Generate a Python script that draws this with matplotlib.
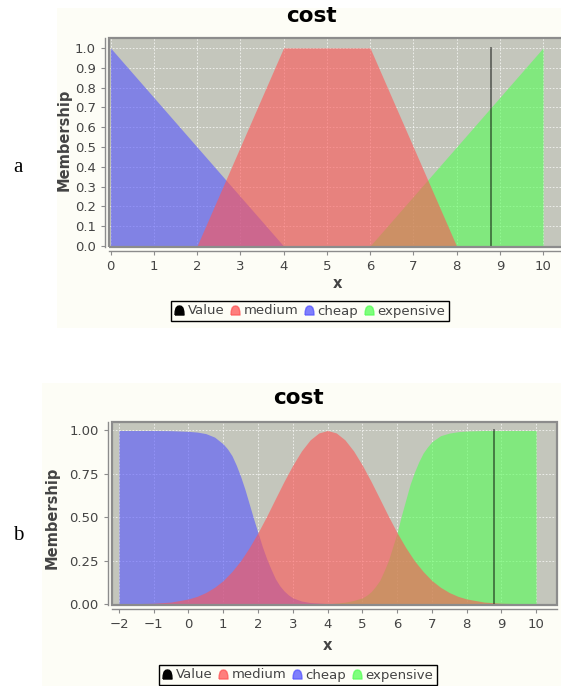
import matplotlib
matplotlib.use("Agg")
import matplotlib.pyplot as plt
from matplotlib.lines import Line2D
from matplotlib.patches import Rectangle
from matplotlib.path import Path

W, H = 561, 686

# ---- data ----
value_x = 8.8

# panel a: triangular / trapezoidal sets
a_cheap_x = [0, 4]
a_cheap_y = [1.0, 0.0]
a_medium_x = [2, 4, 6, 8]
a_medium_y = [0.0, 1.0, 1.0, 0.0]
a_expensive_x = [6, 10, 10]
a_expensive_y = [0.0, 1.0, 0.0]

# panel b: smooth sets
b_cheap_x = [-2, -1, -0.5, 0, 0.25, 0.5, 0.75, 1, 1.125, 1.25, 1.375, 1.5,
             1.625, 1.75, 1.875, 2, 2.125, 2.25, 2.375, 2.5, 2.625, 2.75,
             2.875, 3, 3.25, 3.5, 4, 5, 10]
b_cheap_y = [1.0, 1.0, 0.999, 0.995, 0.991, 0.982, 0.962, 0.922, 0.893,
             0.855, 0.80, 0.735, 0.66, 0.575, 0.49, 0.41, 0.33, 0.26, 0.20,
             0.145, 0.105, 0.075, 0.052, 0.035, 0.017, 0.008, 0.002, 0.0, 0.0]
b_medium_x = [-2, -1, -0.5, 0, 0.25, 0.5, 0.75, 1, 1.25, 1.5, 1.75, 2, 2.25,
              2.5, 2.75, 3, 3.25, 3.5, 3.75, 4, 4.25, 4.5, 4.75, 5, 5.25,
              5.5, 5.75, 6, 6.25, 6.5, 6.75, 7, 7.25, 7.5, 7.75, 8, 8.5, 9, 10]
b_medium_y = [0.0, 0.004, 0.011, 0.029, 0.044, 0.066, 0.096, 0.135, 0.187,
              0.249, 0.325, 0.411, 0.506, 0.607, 0.707, 0.80, 0.882, 0.946,
              0.986, 1.0, 0.986, 0.946, 0.882, 0.80, 0.707, 0.607, 0.506,
              0.411, 0.325, 0.249, 0.187, 0.135, 0.096, 0.066, 0.044, 0.029,
              0.011, 0.004, 0.0]
b_expensive_x = [-2, 4, 4.5, 4.75, 5, 5.125, 5.25, 5.375, 5.5, 5.625, 5.75,
                 5.875, 6, 6.125, 6.25, 6.375, 6.5, 6.625, 6.75, 6.875, 7,
                 7.25, 7.5, 7.75, 8, 8.5, 10, 10]
b_expensive_y = [0.0, 0.0, 0.01, 0.02, 0.035, 0.05, 0.07, 0.10, 0.135, 0.19,
                 0.25, 0.33, 0.41, 0.51, 0.60, 0.69, 0.76, 0.82, 0.87, 0.905,
                 0.935, 0.97, 0.985, 0.993, 0.997, 1.0, 1.0, 0.0]

a_xticks = list(range(0, 11))
a_yticks = [0.0, 0.1, 0.2, 0.3, 0.4, 0.5, 0.6, 0.7, 0.8, 0.9, 1.0]
b_xticks = list(range(-2, 11))
b_yticks = [0.0, 0.25, 0.5, 0.75, 1.0]

legend_names = ["Value", "medium", "cheap", "expensive"]
RED, BLUE, GREEN = "#ff5555", "#5555ff", "#55ff55"
PLOT_BG = "#c4c6bc"
CREAM = "#fdfdf6"
TXT = "#444444"
AXC = "#8c8c8c"

plt.rcParams["font.family"] = ["DejaVu Sans"]


def fx(x):
    return x / W


def fy(y):
    return 1 - y / H


def px_axes(fig, left, right, top, bottom):
    return fig.add_axes([fx(left), fy(bottom), (right - left) / W, (bottom - top) / H])


dome = Path([(-1, -1), (-0.95, -0.2), (-0.75, 0.55), (-0.4, 0.92), (0, 1),
             (0.4, 0.92), (0.75, 0.55), (0.95, -0.2), (1, -1), (-1, -1)])


def panel(fig, ax, cheap, medium, expensive, xlim, ylim, xticks, yticks,
          yfmt, title_xy, xlabel_xy, ylabel_xy, legend_xy):
    ax.set_facecolor(PLOT_BG)
    # JFreeChart draws series in reverse order: expensive, cheap, medium, value
    ax.fill_between(expensive[0], expensive[1], 0, color=GREEN, alpha=0.6,
                    lw=0, zorder=2)
    ax.fill_between(cheap[0], cheap[1], 0, color=BLUE, alpha=0.6, lw=0, zorder=3)
    ax.fill_between(medium[0], medium[1], 0, color=RED, alpha=0.6, lw=0, zorder=4)
    ax.plot([value_x, value_x], [0, 1], color="black", alpha=0.5, lw=1.3, zorder=5)

    ax.set_xlim(*xlim)
    ax.set_ylim(*ylim)
    ax.set_xticks(xticks)
    ax.set_yticks(yticks)
    ax.set_yticklabels([yfmt.format(v) for v in yticks])
    ax.grid(True, color="white", lw=0.6, ls=(0, (2, 2)), alpha=0.8, zorder=1)
    ax.set_axisbelow(True)

    for s in ("top", "right"):
        ax.spines[s].set_visible(False)
    for s in ("left", "bottom"):
        ax.spines[s].set_position(("outward", 3))
        ax.spines[s].set_color(AXC)
        ax.spines[s].set_linewidth(1.0)
    ax.add_patch(Rectangle((0, 0), 1, 1, transform=ax.transAxes, fill=False,
                           ec=AXC, lw=1.6, zorder=6, clip_on=False))
    ax.tick_params(colors=AXC, labelcolor=TXT, labelsize=9.5, length=3, width=0.8)

    fig.text(fx(title_xy[0]), fy(title_xy[1]), "cost", fontsize=15.5,
             fontweight="bold", ha="center", va="center", color="black")
    ax.set_xlabel("x", fontsize=10.5, fontweight="bold", color=TXT, va="center")
    ax.xaxis.set_label_coords(fx(xlabel_xy[0]), fy(xlabel_xy[1]), transform=fig.transFigure)
    ax.set_ylabel("Membership", fontsize=10.5, fontweight="bold", color=TXT, va="center")
    ax.yaxis.set_label_coords(fx(ylabel_xy[0]), fy(ylabel_xy[1]), transform=fig.transFigure)

    colors = ["black", RED, BLUE, GREEN]
    handles = [Line2D([], [], ls="none", marker=dome, markersize=6.5,
                      markerfacecolor=c, markeredgecolor=c, alpha=1 if c == "black" else 0.75,
                      label=n) for c, n in zip(colors, legend_names)]
    leg = ax.legend(handles=handles, loc="center", bbox_to_anchor=(fx(legend_xy[0]), fy(legend_xy[1])),
                    bbox_transform=fig.transFigure, ncol=4, frameon=True, fancybox=False,
                    edgecolor="black", facecolor=CREAM, framealpha=1, fontsize=9.5,
                    borderpad=0.25, handlelength=0.7, handletextpad=0.3,
                    columnspacing=0.45, borderaxespad=0)
    leg.get_frame().set_linewidth(1.0)
    for t in leg.get_texts():
        t.set_color(TXT)


fig = plt.figure(figsize=(W / 100, H / 100), dpi=100, facecolor="white")
fig.add_artist(Rectangle((fx(57), fy(328)), (561 - 57) / W, (328 - 8) / H,
                         transform=fig.transFigure, fc=CREAM, ec="none", zorder=-1))
fig.add_artist(Rectangle((fx(42), fy(686)), (561 - 42) / W, (686 - 383) / H,
                         transform=fig.transFigure, fc=CREAM, ec="none", zorder=-1))
fig.text(fx(18), fy(168), "a", fontsize=15, family=["Liberation Serif", "DejaVu Serif"],
         ha="center", va="center")
fig.text(fx(18), fy(535), "b", fontsize=15, family=["Liberation Serif", "DejaVu Serif"],
         ha="center", va="center")

ax_a = px_axes(fig, 109, 566, 38, 247)
panel(fig, ax_a, (a_cheap_x, a_cheap_y), (a_medium_x, a_medium_y),
      (a_expensive_x, a_expensive_y), (-0.035, 10.53), (-0.005, 1.05),
      a_xticks, a_yticks, "{:.1f}", (311, 16), (337, 284), (64, 140), (310, 311))

ax_b = px_axes(fig, 112, 557, 422, 605)
panel(fig, ax_b, (b_cheap_x, b_cheap_y), (b_medium_x, b_medium_y),
      (b_expensive_x, b_expensive_y), (-2.2, 10.6), (-0.006, 1.049),
      b_xticks, b_yticks, "{:.2f}", (298, 398), (327, 645), (52, 518), (298, 675))

fig.savefig("out.png", dpi=100, facecolor="white")
